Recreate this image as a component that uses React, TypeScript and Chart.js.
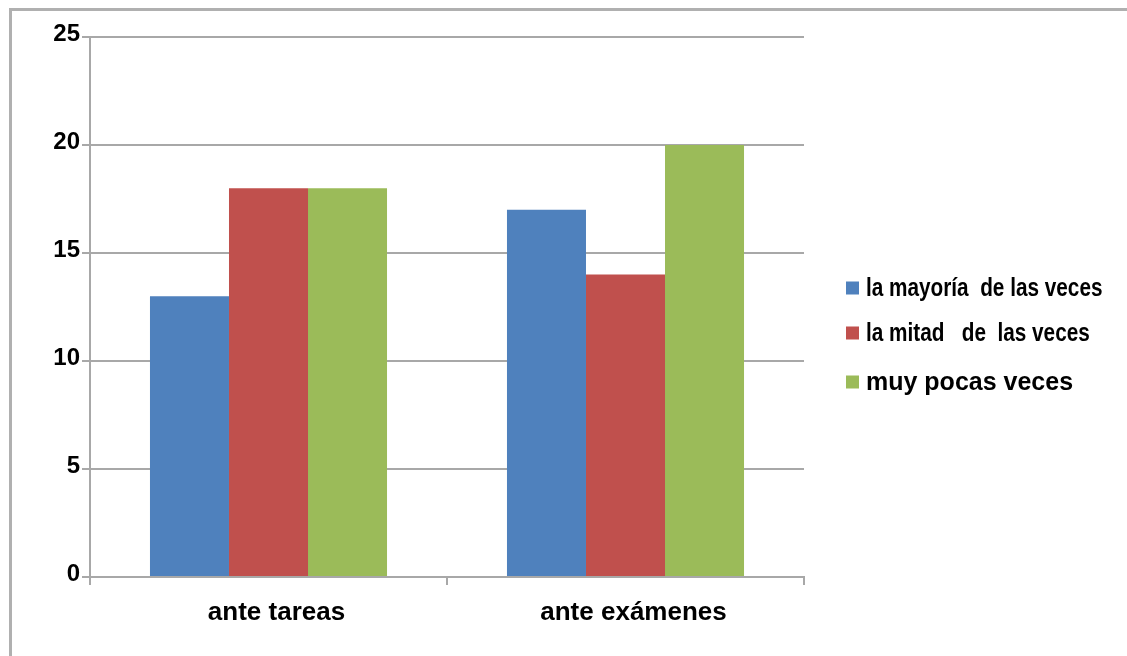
import React, { useEffect, useRef } from "react";
import { Chart, registerables } from "chart.js";

Chart.register(...registerables);

const categories = ["ante tareas", "ante exámenes"];
const seriesNames = ["la mayoría  de las veces", "la mitad   de  las veces", "muy pocas veces"];
const mayoriaValues = [13, 17];
const mitadValues = [18, 14];
const pocasValues = [18, 20];
const yTickValues = [0, 5, 10, 15, 20, 25];
const seriesColors = ["#4f81bd", "#c0504d", "#9bbb59"];

const GRID = "#a8a8a8";
const FAMILY = "'Liberation Sans', Arial, sans-serif";

const legendRows = [288, 333, 382];

const legendPlugin = {
  id: "sideLegend",
  afterDraw(chart: any) {
    const ctx = chart.ctx;
    const x0 = chart.chartArea.right + 42;
    chart.data.datasets.forEach((ds: any, i: number) => {
      const cy = legendRows[i];
      ctx.save();
      ctx.fillStyle = ds.backgroundColor;
      ctx.fillRect(x0, cy - 6.5, 13, 13);
      ctx.fillStyle = "#000";
      ctx.textBaseline = "middle";
      ctx.textAlign = "left";
      ctx.translate(x0 + 20, cy + 1);
      ctx.font = `bold 25px ${FAMILY}`;
      if (i !== 2) {
        ctx.scale(0.83, 1);
      }
      ctx.fillText(ds.label, 0, 0);
      ctx.restore();
    });
  },
};

export default function App() {
  const ref = useRef<HTMLCanvasElement>(null);

  useEffect(() => {
    if (!ref.current) return;
    const values = [mayoriaValues, mitadValues, pocasValues];
    const chart = new Chart(ref.current, {
      type: "bar",
      data: {
        labels: categories,
        datasets: seriesNames.map((name, i) => ({
          label: name,
          data: values[i],
          backgroundColor: seriesColors[i],
          borderWidth: 0,
          categoryPercentage: 0.664,
          barPercentage: 1,
        })),
      },
      options: {
        animation: false,
        responsive: false,
        maintainAspectRatio: false,
        layout: { padding: { top: 37, right: 323, bottom: 0, left: 0 } },
        plugins: {
          legend: { display: false },
          tooltip: { enabled: false },
        },
        scales: {
          x: {
            afterFit: (scale: any) => {
              scale.height = 79;
            },
            grid: {
              display: true,
              drawOnChartArea: false,
              drawTicks: true,
              offset: true,
              tickLength: 8,
              color: GRID,
              lineWidth: 2,
            },
            border: { display: true, color: GRID, width: 2 },
            ticks: {
              color: "#000",
              font: { family: FAMILY, size: 26, weight: "bold" },
              padding: 12,
              labelOffset: 8,
            },
          },
          y: {
            min: 0,
            max: 25,
            afterFit: (scale: any) => {
              scale.width = 90;
            },
            afterBuildTicks: (scale: any) => {
              scale.ticks = yTickValues.map((v) => ({ value: v }));
            },
            grid: {
              color: GRID,
              lineWidth: 2,
              tickLength: 8,
              drawTicks: true,
            },
            border: { display: true, color: GRID, width: 2 },
            ticks: {
              color: "#000",
              font: { family: FAMILY, size: 24, weight: "bold" },
              padding: 2,
              labelOffset: -3,
            },
          },
        },
      },
      plugins: [legendPlugin],
    });
    return () => chart.destroy();
  }, []);

  return (
    <div style={{ position: "fixed", left: 0, top: 0, width: 1127, height: 656, background: "#fff" }}>
      <div
        style={{
          position: "absolute",
          left: 9,
          top: 8,
          width: 1200,
          height: 700,
          borderTop: "3px solid #b0b0b0",
          borderLeft: "3px solid #b0b0b0",
        }}
      />
      <canvas
        ref={ref}
        width={1127}
        height={656}
        style={{ position: "absolute", left: 0, top: 0, width: 1127, height: 656 }}
      />
    </div>
  );
}
